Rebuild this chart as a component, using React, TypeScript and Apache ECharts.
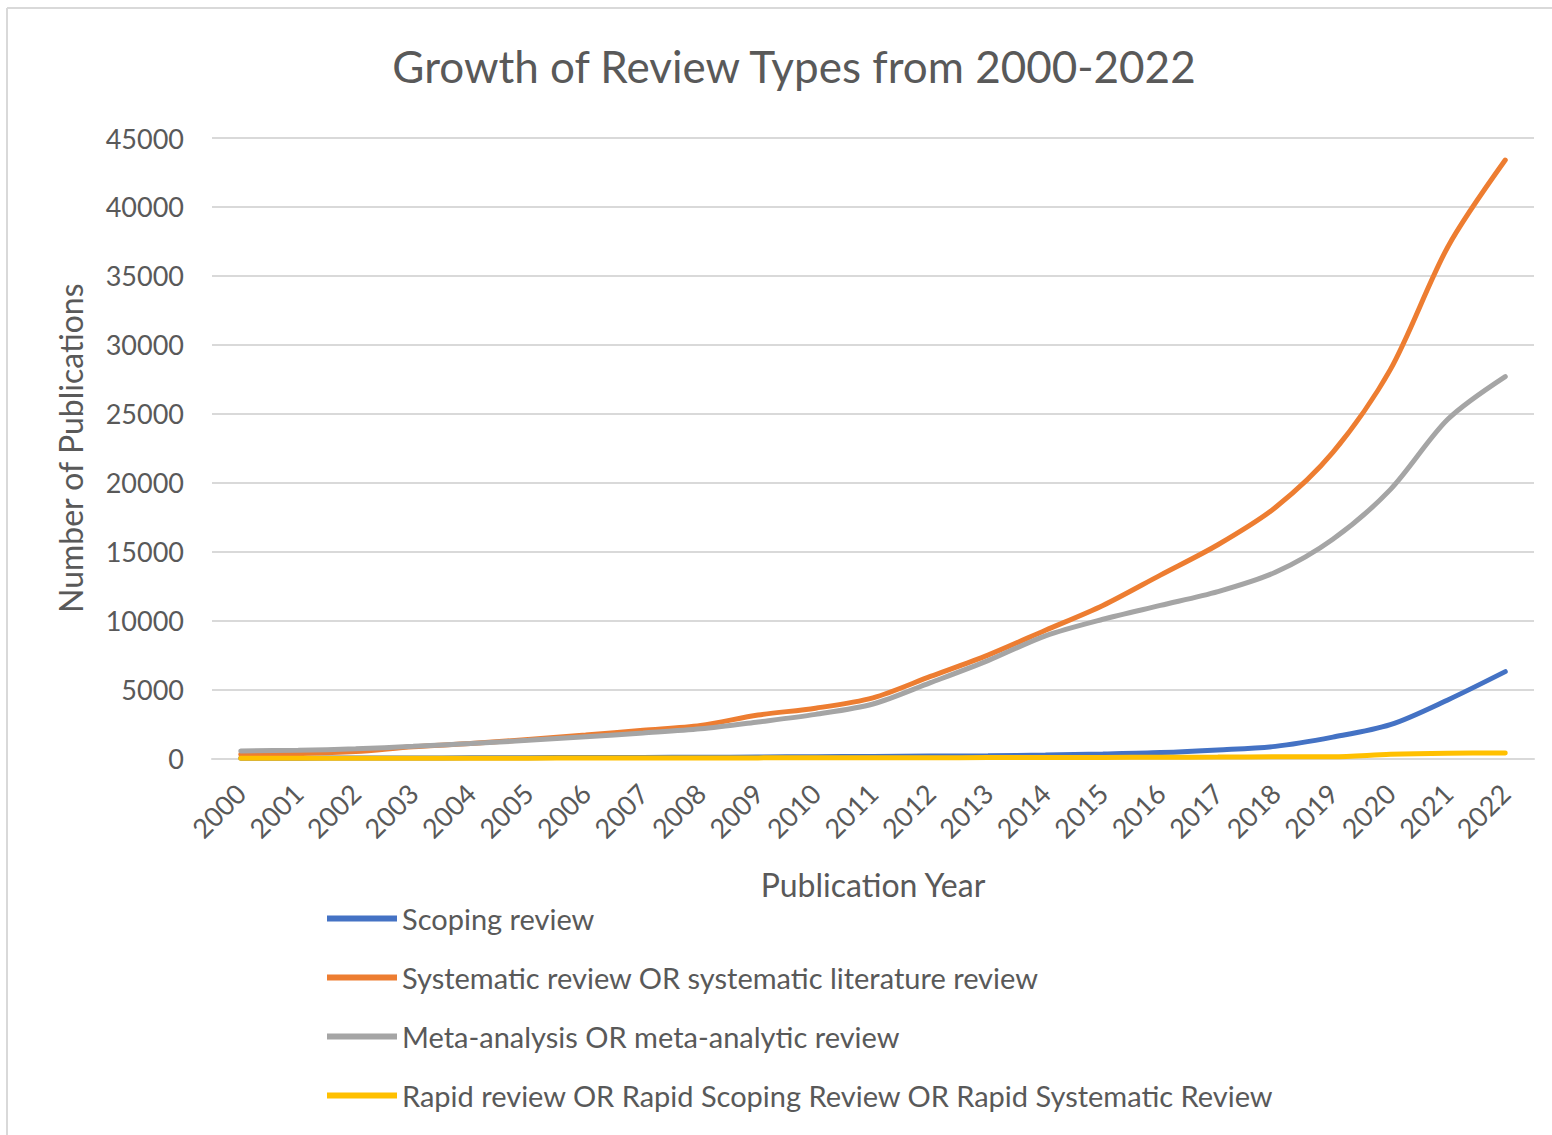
import React, { useEffect, useRef } from "react";
import * as echarts from "echarts";

const years = ["2000","2001","2002","2003","2004","2005","2006","2007","2008","2009","2010","2011","2012","2013","2014","2015","2016","2017","2018","2019","2020","2021","2022"];
const scoping = [20, 25, 30, 40, 50, 60, 70, 80, 90, 110, 130, 150, 180, 200, 250, 330, 430, 620, 880, 1550, 2450, 4250, 6300];
const systematic = [300, 350, 500, 850, 1080, 1380, 1700, 2050, 2400, 3150, 3650, 4400, 5950, 7500, 9300, 11100, 13300, 15500, 18200, 22200, 28200, 37100, 43400];
const metaAnalysis = [550, 600, 700, 880, 1080, 1320, 1580, 1850, 2150, 2650, 3200, 3950, 5500, 7100, 8900, 10100, 11100, 12100, 13500, 15900, 19500, 24600, 27700];
const rapid = [10, 12, 15, 18, 20, 25, 30, 35, 40, 45, 50, 55, 60, 65, 70, 80, 90, 100, 120, 130, 300, 380, 400];
const seriesNames = [
  "Scoping review",
  "Systematic review OR systematic literature review",
  "Meta-analysis OR meta-analytic review",
  "Rapid review OR Rapid Scoping Review OR Rapid Systematic Review",
];
const yTicks = { min: 0, max: 45000, interval: 5000 };

const FONT = "Lato";
const TEXT = "#595959";

export default function App() {
  const ref = useRef<HTMLDivElement>(null);
  useEffect(() => {
    if (!ref.current) return;
    const chart = echarts.init(ref.current, null, { renderer: "svg" });
    const mk = (name: string, data: number[], color: string, z: number) => ({
      name,
      type: "line",
      data,
      smooth: 0.3,
      showSymbol: false,
      symbol: "none",
      z,
      lineStyle: { color, width: 5, cap: "round" },
      itemStyle: { color },
    });
    chart.setOption({
      animation: false,
      backgroundColor: "#ffffff",
      textStyle: { fontFamily: FONT },
      title: {
        text: "Growth of Review Types from 2000-2022",
        left: 789,
        textAlign: "center",
        top: 39,
        textStyle: { fontFamily: FONT, fontSize: 44, fontWeight: "normal", color: TEXT },
      },
      graphic: [
        { type: "line", shape: { x1: 7, y1: 8, x2: 1552, y2: 8 }, style: { stroke: "#d9d9d9", lineWidth: 2 } },
        { type: "line", shape: { x1: 7, y1: 8, x2: 7, y2: 1135 }, style: { stroke: "#d9d9d9", lineWidth: 2 } },
      ],
      legend: {
        orient: "vertical",
        left: 327,
        top: 903,
        padding: 0,
        icon: "rect",
        itemWidth: 70,
        itemHeight: 6,
        itemGap: 28,
        data: seriesNames,
        textStyle: { fontFamily: FONT, fontSize: 29, color: TEXT, padding: [0, 0, 0, 0], lineHeight: 31 },
      },
      grid: { left: 212, right: 18, top: 138, bottom: 376.5, containLabel: false },
      xAxis: {
        type: "category",
        data: years,
        boundaryGap: true,
        axisLine: { lineStyle: { color: "#d9d9d9", width: 2 } },
        axisTick: { show: false },
        axisLabel: { rotate: 45, fontFamily: FONT, fontSize: 27, color: TEXT, margin: 30, interval: 0 },
        name: "Publication Year",
        nameLocation: "middle",
        nameGap: 110,
        nameTextStyle: { fontFamily: FONT, fontSize: 32, color: TEXT },
      },
      yAxis: {
        type: "value",
        min: yTicks.min,
        max: yTicks.max,
        interval: yTicks.interval,
        axisLine: { show: false },
        axisTick: { show: false },
        splitLine: { lineStyle: { color: "#d9d9d9", width: 2 } },
        axisLabel: { fontFamily: FONT, fontSize: 27, color: TEXT, margin: 28, formatter: (v: number) => String(v) },
        name: "Number of Publications",
        nameLocation: "middle",
        nameGap: 126,
        nameTextStyle: { fontFamily: FONT, fontSize: 32, color: TEXT },
      },
      series: [
        mk(seriesNames[0], scoping, "#4472C4", 2),
        mk(seriesNames[1], systematic, "#ED7D31", 3),
        mk(seriesNames[2], metaAnalysis, "#A5A5A5", 4),
        mk(seriesNames[3], rapid, "#FFC000", 5),
      ],
    });
    return () => chart.dispose();
  }, []);
  return (
    <div
      ref={ref}
      style={{ position: "absolute", left: 0, top: 0, width: 1552, height: 1135 }}
    />
  );
}
